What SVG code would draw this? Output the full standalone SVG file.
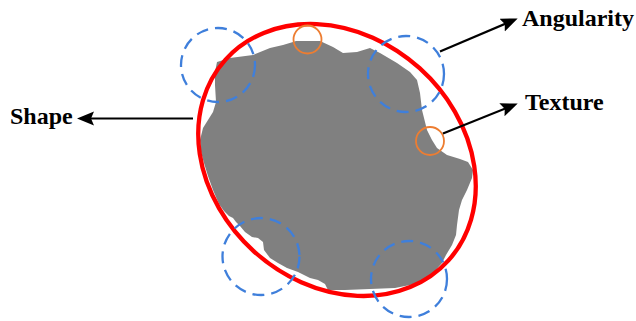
<svg xmlns="http://www.w3.org/2000/svg" width="636" height="321" viewBox="0 0 636 321">
<style>
.lbl{font-family:"Liberation Serif","Times New Roman",serif;font-weight:bold;font-size:24px;fill:#000}
.blue{fill:none;stroke:#3F7FDB;stroke-width:2.3;stroke-dasharray:12 7}
.orange{fill:none;stroke:#ED7D31;stroke-width:1.8}
.conn{stroke:#000;stroke-width:2.2;fill:none;marker-end:url(#ah)}
</style>
<defs>
<marker id="ah" markerUnits="userSpaceOnUse" markerWidth="18" markerHeight="15" refX="13" refY="7" orient="auto">
<path d="M0,0 L17,7 L0,14 L3,7 Z" fill="#000"/>
</marker>
</defs>
<rect width="636" height="321" fill="#fff"/>
<g id="particle">
<path d="M217,62 L230,58 L253,55 L270,48 L283,45 L293,42 L296,41 L320,41 L333,47 L343,53 L357,52 L370,48 L380,53 L397,63 L410,72 L417,80 L420,93 L422,110 L427,130 L432,140 L437,148 L447,155 L460,159 L468,162 L473,170 L472,178 L467,190 L462,200 L459,210 L457,225 L456,235 L452,245 L446,255 L442,263 L435,271 L423,281 L410,285 L395,288 L370,289 L345,290 L328,290 L325,284 L318,280 L310,278 L298,272 L287,268 L278,263 L270,258 L264,250 L263,242 L258,238 L252,237 L245,232 L240,226 L236,222 L233,218 L229,216 L224,211 L219,204 L213,190 L208,176 L204,163 L201,152 L200,140 L203,128 L208,120 L213,112 L216,102 L215,85 L215,72 Z" fill="#808080"/>
</g>
<g id="shape-ellipse">
<ellipse cx="337" cy="160" rx="150" ry="123.5" transform="rotate(42 337 160)" fill="none" stroke="#FF0000" stroke-width="4.3"/>
</g>
<g id="angularity-circles">
<circle class="blue" cx="218" cy="65" r="37"/>
<circle class="blue" cx="406" cy="74" r="38"/>
<circle class="blue" cx="261" cy="256.5" r="38.5"/>
<circle class="blue" cx="409" cy="279" r="38"/>
</g>
<g id="texture-circles">
<circle class="orange" cx="307.5" cy="39.5" r="14"/>
<circle class="orange" cx="430" cy="141" r="14"/>
</g>
<g id="connectors">
<line class="conn" x1="193" y1="118.5" x2="81" y2="118.5"/>
<line class="conn" x1="440" y1="51.5" x2="514" y2="20"/>
<line class="conn" x1="443" y1="133.5" x2="514" y2="105"/>
</g>
<g id="label-shape"><text class="lbl" x="10" y="124">Shape</text></g>
<g id="label-angularity"><text class="lbl" x="522" y="26">Angularity</text></g>
<g id="label-texture"><text class="lbl" x="525" y="110">Texture</text></g>
</svg>
